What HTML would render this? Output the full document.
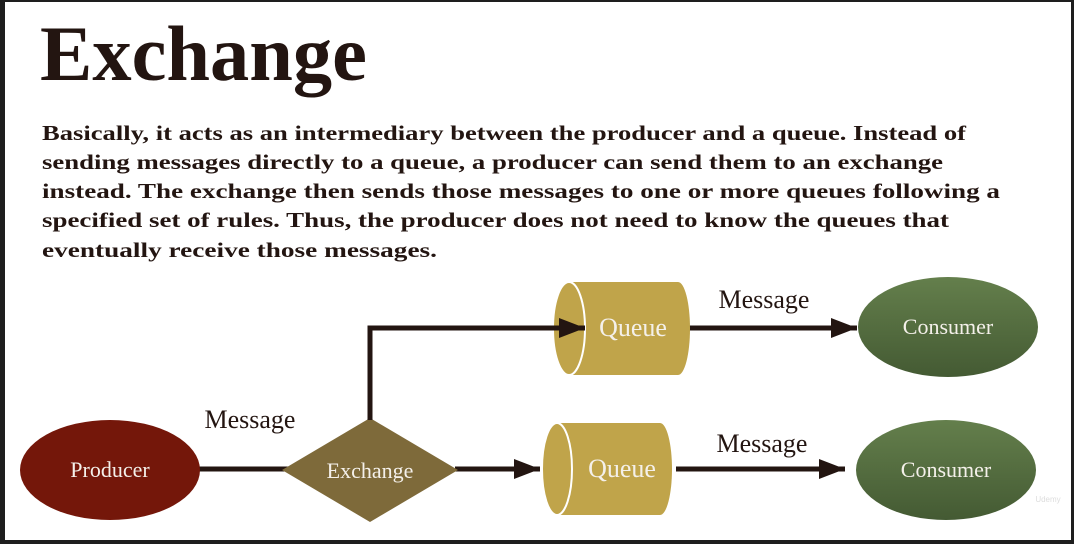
<!DOCTYPE html>
<html><head><meta charset="utf-8"><style>
html,body{margin:0;padding:0;background:#1e1e1e;width:1074px;height:544px;overflow:hidden}
svg{display:block}
</style></head><body>
<svg width="1074" height="544" viewBox="0 0 1074 544" xmlns="http://www.w3.org/2000/svg">
<defs>
<linearGradient id="g" x1="0" y1="0" x2="0" y2="1"><stop offset="0" stop-color="#647f4c"/><stop offset="1" stop-color="#445a33"/></linearGradient>
<marker id="a" markerWidth="26" markerHeight="22" refX="26" refY="11" orient="auto" markerUnits="userSpaceOnUse" viewBox="0 0 26 22"><path d="M0,1 L26,11 L0,21 z" fill="#231511"/></marker>
</defs>
<rect x="5" y="2" width="1066" height="538" fill="#fff"/>
<g font-family="Liberation Serif, serif" fill="#231511">
<text x="40" y="80" font-size="78" font-weight="bold" textLength="327" lengthAdjust="spacingAndGlyphs">Exchange</text>
<g font-size="21" font-weight="bold">
<text x="42" y="140" textLength="924" lengthAdjust="spacingAndGlyphs">Basically, it acts as an intermediary between the producer and a queue. Instead of</text>
<text x="42" y="169" textLength="901" lengthAdjust="spacingAndGlyphs">sending messages directly to a queue, a producer can send them to an exchange</text>
<text x="42" y="198" textLength="958" lengthAdjust="spacingAndGlyphs">instead. The exchange then sends those messages to one or more queues following a</text>
<text x="42" y="227" textLength="907" lengthAdjust="spacingAndGlyphs">specified set of rules. Thus, the producer does not need to know the queues that</text>
<text x="42" y="257" textLength="395" lengthAdjust="spacingAndGlyphs">eventually receive those messages.</text>
</g>
<g font-size="26">
<text x="250" y="428" text-anchor="middle">Message</text>
<text x="764" y="308" text-anchor="middle">Message</text>
<text x="762" y="452" text-anchor="middle">Message</text>
</g>
</g>
<g stroke="#231511" stroke-width="5" fill="none">
<line x1="197" y1="469" x2="290" y2="469"/>
<line x1="455" y1="469" x2="540" y2="469" marker-end="url(#a)"/>
<line x1="688" y1="328" x2="857" y2="328" marker-end="url(#a)"/>
<line x1="676" y1="469" x2="845" y2="469" marker-end="url(#a)"/>
</g>
<ellipse cx="110" cy="470" rx="90" ry="50" fill="#74170a"/>
<polygon points="370,418 458,470 370,522 282,470" fill="#7e6a3a"/>
<path d="M569,282 H678 A12,46.5 0 0 1 678,375 H569 Z" fill="#c0a44a"/>
<ellipse cx="569" cy="328.5" rx="16" ry="46.5" fill="#c0a44a" stroke="#fff" stroke-width="2"/>
<polyline points="370,420 370,328 585,328" stroke="#231511" stroke-width="5" fill="none" marker-end="url(#a)"/>
<path d="M557,423 H660 A12,46 0 0 1 660,515 H557 Z" fill="#c0a44a"/>
<ellipse cx="557" cy="469" rx="15" ry="46" fill="#c0a44a" stroke="#fff" stroke-width="2"/>
<ellipse cx="948" cy="327" rx="90" ry="50" fill="url(#g)"/>
<ellipse cx="946" cy="470" rx="90" ry="50" fill="url(#g)"/>
<g font-family="Liberation Serif, serif" fill="#f4f0ea" text-anchor="middle">
<text x="110" y="477" font-size="22">Producer</text>
<text x="370" y="478" font-size="22">Exchange</text>
<text x="633" y="336" font-size="26">Queue</text>
<text x="622" y="477" font-size="26">Queue</text>
<text x="948" y="334" font-size="22">Consumer</text>
<text x="946" y="477" font-size="22">Consumer</text>
</g>
<text x="1048" y="502" font-family="Liberation Sans, sans-serif" font-size="8" fill="#ddd" text-anchor="middle">Udemy</text>
</svg>
</body></html>
